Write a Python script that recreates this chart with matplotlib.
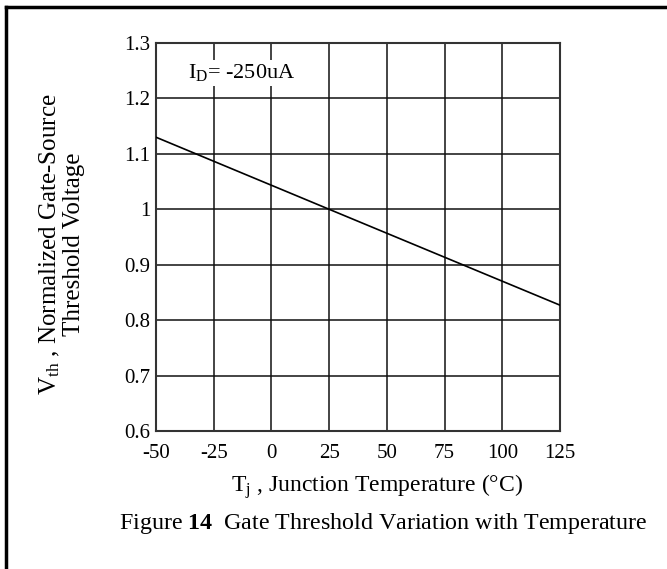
import numpy as np
import matplotlib
matplotlib.use('Agg')
import matplotlib.pyplot as plt
from matplotlib.lines import Line2D

plt.rcParams['font.family'] = ['Liberation Serif', 'DejaVu Serif']
plt.rcParams['mathtext.fontset'] = 'custom'
plt.rcParams['mathtext.rm'] = 'Liberation Serif'
plt.rcParams['mathtext.it'] = 'Liberation Serif:italic'
plt.rcParams['mathtext.bf'] = 'Liberation Serif:bold'
plt.rcParams['axes.unicode_minus'] = False

# Data
temp_c = [-50, 25, 125]
vth_norm = [1.13, 1.0, 0.827]
x_ticks = [-50, -25, 0, 25, 50, 75, 100, 125]
x_tick_labels = ['-50', '-25', '0', '25', '50', '75', '100', '125']
y_ticks = [0.6, 0.7, 0.8, 0.9, 1.0, 1.1, 1.2, 1.3]
y_tick_labels = ['0.6', '0.7', '0.8', '0.9', '1', '1.1', '1.2', '1.3']

fig = plt.figure(figsize=(6.67, 5.69), dpi=100)
ax = fig.add_axes([156 / 667, 1 - 431 / 569, 404 / 667, 388 / 569])

ax.plot(temp_c, vth_norm, color='black', lw=1.2, zorder=3)

ax.set_xlim(-50, 125)
ax.set_ylim(0.6, 1.3)
ax.set_xticks(x_ticks)
ax.set_xticklabels(x_tick_labels)
ax.set_yticks(y_ticks)
ax.set_yticklabels(y_tick_labels)
ax.tick_params(length=0, labelsize=15)
ax.tick_params(axis='x', pad=9)
ax.tick_params(axis='y', pad=4)
ax.grid(True, color='#111111', lw=1.1)
ax.set_axisbelow(True)
for s in ax.spines.values():
    s.set_color('#333333')
    s.set_linewidth(1.5)

ax.text(-13.0, 1.246, 'I$_{\\rm D}$= -250uA', fontsize=16, ha='center', va='center',
        bbox=dict(facecolor='white', edgecolor='none', pad=2), zorder=4)

fig.text(377 / 667, 1 - 487 / 569, 'T$_{\\rm j}$ , Junction Temperature (\u00b0C)',
         fontsize=17, ha='center', va='center')
fig.text(61 / 667, 1 - 244 / 569, 'V$_{\\rm th}$ , Normalized Gate-Source\nThreshold Voltage',
         fontsize=18, ha='center', va='center', rotation=90, multialignment='center',
         linespacing=1.05)

fig.text(119 / 667, 1 - 524 / 569, 'Figure $\\mathbf{14}$  Gate Threshold Variation with Temperature',
         fontsize=17.3, ha='left', va='center')

# outer frame (top and left edges only)
fig.add_artist(Line2D([6 / 667, 1], [1 - 7 / 569, 1 - 7 / 569], transform=fig.transFigure,
                      color='black', lw=2.5))
fig.add_artist(Line2D([6 / 667, 6 / 667], [1 - 7 / 569, 0], transform=fig.transFigure,
                      color='black', lw=2.5))

fig.savefig('out.png', dpi=100)
